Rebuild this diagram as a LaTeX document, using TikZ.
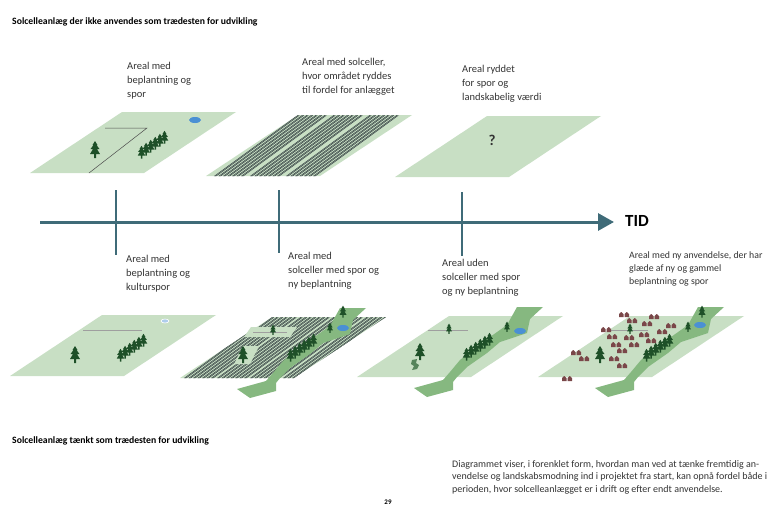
\documentclass[tikz,border=0pt]{standalone}
\usepackage{fontspec}
\setmainfont{Carlito}
\usetikzlibrary{arrows.meta}

\definecolor{markgroen}{HTML}{C8DFC4}
\definecolor{stigroen}{HTML}{86B880}
\definecolor{skovgroen}{HTML}{1E5028}
\definecolor{buskgroen}{HTML}{55845A}
\definecolor{soblaa}{HTML}{4A90D4}
\definecolor{panelgraa}{HTML}{2E3A3D}
\definecolor{husbrun}{HTML}{7A4749}
\definecolor{tidblaa}{HTML}{3F6B78}
\definecolor{tekstgraa}{HTML}{333333}

% felt, clip og sti i feltets egne koordinater (nederste venstre hjoerne = (0,0))
\newcommand\felt{\fill[markgroen] (0,0) -- (114,0) -- (206,-61) -- (92,-61) -- cycle;}
\newcommand\feltclip{\clip (0,0) -- (114,0) -- (206,-61) -- (92,-61) -- cycle;}
\newcommand\sti{\fill[stigroen] (160,-70) -- (186,-70) -- (173,-58) -- (170,-44) -- (143,-35) -- (130,-24)
  -- (110,-10) -- (100,0) -- (96,5) -- (96,13) -- (70,20) -- (57,11) -- (86,3) -- (93,-5) -- (103,-17)
  -- (120,-30) -- (133,-40) -- (150,-52) -- cycle;}

\tikzset{
  raekke/.style={draw=panelgraa, line width=0.45pt, double=markgroen!55!panelgraa, double distance=0.5pt},
  hegn/.style={draw=gray!75, line width=0.6pt},
  tekst/.style={anchor=north west, align=left, inner sep=0pt, text=tekstgraa, font=\fontsize{10.5}{13.8}\selectfont},
  overskrift/.style={anchor=west, inner sep=0pt, font=\bfseries\fontsize{9.7}{11}\selectfont},
  tidslinje/.style={draw=tidblaa, line width=3pt},
  tidsmark/.style={draw=tidblaa, line width=1.5pt},
  lonetree/.pic={\fill[skovgroen] (0,-9) -- (2.5,-5) -- (1.5,-5) -- (4.5,-1) -- (2,-1) -- (5,4) -- (1,4)
    -- (1,8) -- (-1,8) -- (-1,4) -- (-5,4) -- (-2,-1) -- (-4.5,-1) -- (-1.5,-5) -- (-2.5,-5) -- cycle;},
  treerow/.pic={\foreach \i in {0,...,5} \pic[scale=0.75] at ({4.6*\i-11.5},{7.5-3*\i}) {lonetree};},
  shrub/.pic={\fill[buskgroen] (-3,-5) -- (2,-6) -- (1,-2) -- (4,0) -- (2,4) -- (-3,5) -- (-1,1) -- (-4,-1) -- cycle;},
  house/.pic={\fill[husbrun] (-5,2) -- (-5,-1) -- (-2.75,-3) -- (-0.5,-1) -- (-0.5,2) -- cycle
    (0.5,2) -- (0.5,-1) -- (2.75,-3) -- (5,-1) -- (5,2) -- cycle;},
  pond/.pic={\fill[soblaa] (0,0) ellipse [x radius=6pt, y radius=3pt];}
}

\begin{document}
\begin{tikzpicture}[x=1pt, y=-1pt]
\useasboundingbox (0,0) rectangle (768,507);
\node[overskrift] (titel1) at (12,22) {Solcelleanlæg der ikke anvendes som trædesten for udvikling};

% oeverste raekke
\begin{scope}[shift={(30,173)}]
  \felt
  \draw[line width=0.5pt, draw=gray!60!black] (75,-45) -- (117,-45) -- (59,0);
  \pic at (165,-53) {pond};
  \pic at (65,-23) {lonetree};
  \pic at (123,-28) {treerow};
\end{scope}
\begin{scope}[shift={(206,176)}]
  \felt
  \begin{scope}
    \feltclip
    \foreach \g in {0,36,72} \foreach \k in {0,...,6} \draw[raekke] ({8+\g+4.5*\k},1) -- ++(85,-62);
  \end{scope}
\end{scope}
\begin{scope}[shift={(395,177)}]
  \felt
  \node[font=\bfseries\fontsize{15}{17}\selectfont, text=tekstgraa] (spm) at (97,-37) {?};
\end{scope}

\node[tekst] (t1) at (127,62) {Areal med\\beplantning og\\spor};
\node[tekst] (t2) at (302,58) {Areal med solceller,\\hvor området ryddes\\til fordel for anlægget};
\node[tekst] (t3) at (462,65) {Areal ryddet\\for spor og\\landskabelig værdi};

% tidslinje
\coordinate (start) at (40,222);
\coordinate (slut) at (614,222);
\draw[tidslinje, -{Triangle[length=16pt, width=17pt]}] (start) -- (slut);
\node[font=\bfseries\fontsize{17}{19}\selectfont, anchor=west, inner sep=0pt] (tid) at (625,221) {TID};
\foreach \x/\a/\b in {116/190/255, 279/190/253, 462/192/256} \draw[tidsmark] (\x,\a) -- (\x,\b);

\node[tekst] (b1) at (126,255) {Areal med\\beplantning og\\kulturspor};
\node[tekst] (b2) at (288,252) {Areal med\\solceller med spor og\\ny beplantning};
\node[tekst] (b3) at (442,259) {Areal uden\\solceller med spor\\og ny beplantning};
\node[tekst, font=\fontsize{9.8}{13}\selectfont] (b4) at (629,251) {Areal med ny anvendelse, der har\\glæde af ny og gammel\\beplantning og spor};

% nederste raekke
\begin{scope}[shift={(10,376)}]
  \felt
  \draw[hegn] (73,-46) -- (132,-46);
  \fill[soblaa!45, draw=white, line width=0.6pt] (155,-55) ellipse [x radius=4pt, y radius=2pt];
  \pic at (65,-21) {lonetree};
  \pic at (122,-28) {treerow};
\end{scope}
\begin{scope}[shift={(180,378)}]
  \felt
  \begin{scope}
    \feltclip
    \foreach \g in {0,33,66,99} \foreach \k in {0,...,6} \draw[raekke] ({4+\g+4.5*\k},1) -- ++(85,-62);
  \end{scope}
  \fill[markgroen] (64,-41) -- (110,-41) -- (117,-51) -- (71,-51) -- cycle;
  \fill[markgroen] (54,-14) -- (70,-14) -- (79,-32) -- (63,-32) -- cycle;
  \sti
  \draw[hegn] (73,-46) -- (107,-46);
  \pic at (163,-50) {pond};
  \pic at (63,-23) {lonetree};
  \pic at (122,-30) {treerow};
  \pic[scale=0.6] at (93,-48) {lonetree};
  \pic[scale=0.6] at (150,-50) {lonetree};
  \pic[scale=0.7] at (163,-66) {lonetree};
\end{scope}
\begin{scope}[shift={(357,377)}]
  \felt
  \sti
  \draw[hegn] (71,-47) -- (111,-47);
  \pic at (163,-46) {pond};
  \pic at (58,-12) {shrub};
  \pic at (63,-25) {lonetree};
  \pic at (121,-30) {treerow};
  \pic[scale=0.6] at (92,-48) {lonetree};
  \pic[scale=0.6] at (150,-50) {lonetree};
\end{scope}
\begin{scope}[shift={(538,377)}]
  \felt
  \sti
  \draw[hegn] (69,-47) -- (110,-47);
  \pic at (162,-52) {pond};
  \pic at (62,-22) {lonetree};
  \pic at (120,-29) {treerow};
  \pic[scale=0.6] at (92,-48) {lonetree};
  \pic[scale=0.6] at (150,-50) {lonetree};
  \pic[scale=0.7] at (164,-65) {lonetree};
  \foreach \p in {(86,-62),(94,-56),(116,-60),(109,-53),(133,-51),(68,-47),(124,-45),(106,-42),(74,-40),
    (91,-39),(113,-36),(78,-32),(96,-32),(84,-26),(38,-24),(46,-18),(76,-18),(84,-11),(29,2)}
    \pic at \p {house};
\end{scope}

\node[overskrift] (titel2) at (12,441) {Solcelleanlæg tænkt som trædesten for udvikling};
\node[tekst, font=\fontsize{10}{12.6}\selectfont] (forklaring) at (452,460) {Diagrammet viser, i forenklet form, hvordan man ved at tænke fremtidig an-\\vendelse og landskabsmodning ind i projektet fra start, kan opnå fordel både i\\perioden, hvor solcelleanlægget er i drift og efter endt anvendelse.};
\node[font=\bfseries\fontsize{7}{8}\selectfont, anchor=north, inner sep=0pt] (side) at (388,500) {29};
\end{tikzpicture}
\end{document}
